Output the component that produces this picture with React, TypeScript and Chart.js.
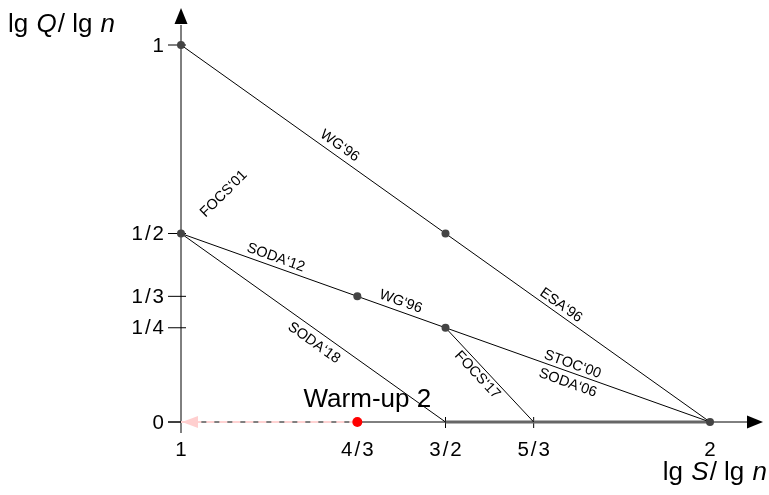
import React, { useEffect, useRef } from 'react';
import { Chart, registerables } from 'chart.js';
Chart.register(...registerables);

// ---------- data ----------
const X_TICK_VALUES = [1, 4 / 3, 3 / 2, 5 / 3, 2];
const X_TICK_LABELS = ['1', '4/3', '3/2', '5/3', '2'];
const X_MINOR_TICKS = [3 / 2, 5 / 3];
const Y_TICK_VALUES = [0, 1 / 4, 1 / 3, 1 / 2, 1];
const Y_TICK_LABELS = ['0', '1/4', '1/3', '1/2', '1'];

const LINE_WG96 = [{ x: 1, y: 1 }, { x: 2, y: 0 }];
const LINE_CHAIN = [{ x: 1, y: 1 / 2 }, { x: 4 / 3, y: 1 / 3 }, { x: 3 / 2, y: 1 / 4 }, { x: 2, y: 0 }];
const LINE_SODA18 = [{ x: 1, y: 1 / 2 }, { x: 3 / 2, y: 0 }];
const LINE_FOCS17 = [{ x: 3 / 2, y: 1 / 4 }, { x: 5 / 3, y: 0 }];
const LINE_BASE = [{ x: 3 / 2, y: 0 }, { x: 2, y: 0 }];
const WARMUP_PATH = [{ x: 4 / 3, y: 0 }, { x: 1, y: 0 }];
const NODES = [
  { x: 1, y: 1 }, { x: 3 / 2, y: 1 / 2 }, { x: 1, y: 1 / 2 },
  { x: 4 / 3, y: 1 / 3 }, { x: 3 / 2, y: 1 / 4 }, { x: 2, y: 0 },
];
const WARMUP_POINT = [{ x: 4 / 3, y: 0 }];
const WARMUP_LABEL = 'Warm-up 2';

const EDGE_LABELS = ['WG‘96', 'ESA‘96', 'SODA‘12', 'WG‘96', 'STOC‘00', 'SODA‘06', 'SODA‘18', 'FOCS‘17'];
const EDGE_SEGMENTS = [
  [LINE_WG96[0], LINE_WG96[1]],
  [LINE_WG96[0], LINE_WG96[1]],
  [LINE_CHAIN[0], LINE_CHAIN[1]],
  [LINE_CHAIN[1], LINE_CHAIN[2]],
  [LINE_CHAIN[2], LINE_CHAIN[3]],
  [LINE_CHAIN[2], LINE_CHAIN[3]],
  [LINE_SODA18[0], LINE_SODA18[1]],
  [LINE_FOCS17[0], LINE_FOCS17[1]],
];
const FREE_LABEL = 'FOCS‘01';
const FREE_LABEL_AT = { x: 1.081, y: 0.605 };

const Y_TITLE: [string, boolean][] = [['lg ', false], ['Q', true], ['/ lg ', false], ['n', true]];
const X_TITLE: [string, boolean][] = [['lg ', false], ['S', true], ['/ lg ', false], ['n', true]];

// ---------- layout (positions along edges: fraction, perpendicular px offset) ----------
const EDGE_PLACEMENT = [
  [0.289, -10], [0.709, -8.5], [0.52, -9], [0.456, -9.5],
  [0.47, -8], [0.476, 11], [0.529, 12], [0.436, 9],
];

const FONT = '"Liberation Sans", Arial, Helvetica, sans-serif';

function drawTitle(ctx: CanvasRenderingContext2D, parts: [string, boolean][], x: number, baseline: number, alignRight: boolean) {
  ctx.save();
  ctx.fillStyle = '#000';
  ctx.textAlign = 'left';
  ctx.textBaseline = 'alphabetic';
  const fontOf = (ital: boolean) => (ital ? 'italic ' : '') + '26px ' + FONT;
  let total = 0;
  for (const [txt, ital] of parts) {
    ctx.font = fontOf(ital);
    total += ctx.measureText(txt).width + 1;
  }
  let cx = alignRight ? x - total : x;
  for (const [txt, ital] of parts) {
    ctx.font = fontOf(ital);
    ctx.fillText(txt, cx, baseline);
    cx += ctx.measureText(txt).width + 1;
  }
  ctx.restore();
}

const diagramPlugin = {
  id: 'diagram',
  beforeDatasetsDraw(chart: any) {
    const ctx: CanvasRenderingContext2D = chart.ctx;
    const xs = chart.scales.x, ys = chart.scales.y;
    const x0 = xs.getPixelForValue(1);
    const y0 = ys.getPixelForValue(0);
    const xEnd = xs.getPixelForValue(2);
    const yTop = ys.getPixelForValue(1);
    ctx.save();
    ctx.strokeStyle = '#000';
    ctx.fillStyle = '#000';
    ctx.lineWidth = 1;
    // y axis
    ctx.beginPath();
    ctx.moveTo(x0, y0 + 11);
    ctx.lineTo(x0, yTop - 20);
    ctx.stroke();
    ctx.beginPath();
    ctx.moveTo(x0, yTop - 37);
    ctx.lineTo(x0 - 6.5, yTop - 21);
    ctx.lineTo(x0 + 6.5, yTop - 21);
    ctx.closePath();
    ctx.fill();
    // x axis
    ctx.beginPath();
    ctx.moveTo(x0 - 13, y0);
    ctx.lineTo(xEnd + 38, y0);
    ctx.stroke();
    ctx.beginPath();
    ctx.moveTo(xEnd + 53, y0);
    ctx.lineTo(xEnd + 37, y0 - 6.5);
    ctx.lineTo(xEnd + 37, y0 + 6.5);
    ctx.closePath();
    ctx.fill();
    // y ticks
    for (const v of Y_TICK_VALUES) {
      const py = ys.getPixelForValue(v);
      ctx.beginPath();
      ctx.moveTo(x0 - 13, py);
      ctx.lineTo(x0 + 5, py);
      ctx.stroke();
    }
    // x minor ticks
    for (const v of X_MINOR_TICKS) {
      const px = xs.getPixelForValue(v);
      ctx.beginPath();
      ctx.moveTo(px, y0 - 5);
      ctx.lineTo(px, y0 + 6);
      ctx.stroke();
    }
    ctx.restore();
  },
  afterDatasetsDraw(chart: any) {
    const ctx: CanvasRenderingContext2D = chart.ctx;
    const xs = chart.scales.x, ys = chart.scales.y;
    const x0 = xs.getPixelForValue(1);
    const y0 = ys.getPixelForValue(0);
    ctx.save();
    ctx.fillStyle = '#000';
    // tick labels
    ctx.font = '20.5px ' + FONT;
    try { (ctx as any).letterSpacing = '2px'; } catch (e) {}
    ctx.textAlign = 'right';
    ctx.textBaseline = 'middle';
    Y_TICK_VALUES.forEach((v, i) => {
      ctx.fillText(Y_TICK_LABELS[i], x0 - 15, ys.getPixelForValue(v) + 1);
    });
    ctx.textAlign = 'center';
    ctx.textBaseline = 'alphabetic';
    X_TICK_VALUES.forEach((v, i) => {
      ctx.fillText(X_TICK_LABELS[i], xs.getPixelForValue(v) + 1, y0 + 34);
    });
    try { (ctx as any).letterSpacing = '0px'; } catch (e) {}

    // warm-up label
    ctx.font = '26px ' + FONT;
    ctx.textAlign = 'center';
    ctx.fillText(WARMUP_LABEL, xs.getPixelForValue(WARMUP_POINT[0].x) + 10, y0 - 15);

    // edge labels
    ctx.font = '14.5px ' + FONT;
    ctx.textBaseline = 'middle';
    EDGE_LABELS.forEach((txt, i) => {
      const [a, b] = EDGE_SEGMENTS[i];
      const [t, off] = EDGE_PLACEMENT[i];
      const ax = xs.getPixelForValue(a.x), ay = ys.getPixelForValue(a.y);
      const bx = xs.getPixelForValue(b.x), by = ys.getPixelForValue(b.y);
      const ang = Math.atan2(by - ay, bx - ax);
      const cx = ax + t * (bx - ax) - off * Math.sin(ang);
      const cy = ay + t * (by - ay) + off * Math.cos(ang);
      ctx.save();
      ctx.translate(cx, cy);
      ctx.rotate(ang);
      ctx.fillText(txt, 0, 0);
      ctx.restore();
    });
    // free label
    ctx.save();
    ctx.translate(xs.getPixelForValue(FREE_LABEL_AT.x), ys.getPixelForValue(FREE_LABEL_AT.y));
    ctx.rotate(-Math.PI / 4);
    ctx.fillText(FREE_LABEL, 0, 0);
    ctx.restore();

    // pink arrowhead for warm-up path
    const tip = xs.getPixelForValue(WARMUP_PATH[1].x) + 1;
    ctx.fillStyle = '#ffcfcf';
    ctx.beginPath();
    ctx.moveTo(tip, y0);
    ctx.lineTo(tip + 16, y0 - 6);
    ctx.lineTo(tip + 16, y0 + 6);
    ctx.closePath();
    ctx.fill();
    ctx.restore();

    // axis titles
    drawTitle(ctx, Y_TITLE, 8, 32, false);
    drawTitle(ctx, X_TITLE, 768, 480, true);
  },
};

export default function App() {
  const ref = useRef<HTMLCanvasElement>(null);
  useEffect(() => {
    document.body.style.margin = '0';
    const lineDs = (data: any[], extra: any = {}) => ({
      data,
      showLine: true,
      borderColor: '#000',
      borderWidth: 1,
      pointRadius: 0,
      pointHoverRadius: 0,
      clip: false,
      order: 5,
      ...extra,
    });
    const chart = new Chart(ref.current!, {
      type: 'scatter',
      data: {
        datasets: [
          lineDs(LINE_BASE, { borderColor: '#666', borderWidth: 3, order: 6 }),
          lineDs(WARMUP_PATH, { borderColor: '#ffd3d3', borderWidth: 2, borderDash: [8, 5], order: 4 }),
          lineDs(LINE_WG96),
          lineDs(LINE_CHAIN),
          lineDs(LINE_SODA18),
          lineDs(LINE_FOCS17),
          {
            data: NODES,
            showLine: false,
            pointRadius: 4,
            pointBackgroundColor: '#444',
            pointBorderColor: '#444',
            pointBorderWidth: 0,
            clip: false,
            order: 1,
          } as any,
          {
            data: WARMUP_POINT,
            showLine: false,
            pointRadius: 5,
            pointBackgroundColor: '#ff0000',
            pointBorderColor: '#ff0000',
            pointBorderWidth: 0,
            clip: false,
            order: 0,
          } as any,
        ],
      },
      options: {
        responsive: false,
        animation: false,
        devicePixelRatio: 1,
        layout: { padding: { left: 181, right: 59, top: 45, bottom: 73 } },
        scales: {
          x: { type: 'linear', min: 1, max: 2, display: false },
          y: { type: 'linear', min: 0, max: 1, display: false },
        },
        plugins: { legend: { display: false }, tooltip: { enabled: false } },
        events: [],
      },
      plugins: [diagramPlugin],
    });
    return () => chart.destroy();
  }, []);
  return <canvas ref={ref} width={769} height={495} style={{ display: 'block' }} />;
}
